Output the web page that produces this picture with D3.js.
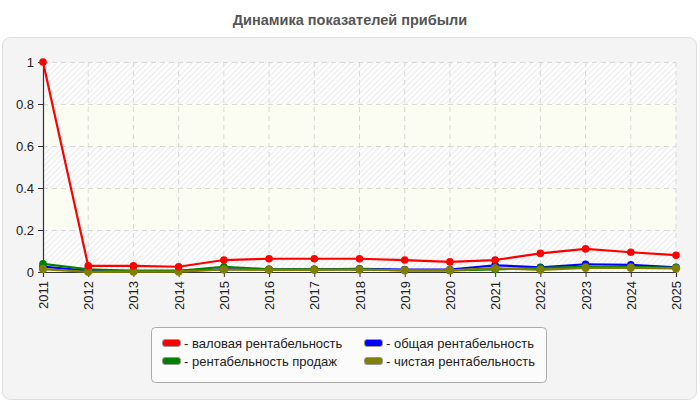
<!DOCTYPE html>
<html>
<head>
<meta charset="utf-8">
<script src="https://cdn.jsdelivr.net/npm/d3@7"></script>
<style>
	body { margin: 0; background: #fff; font-family: "Liberation Sans", Arial, sans-serif; }
	svg text { fill: #222; }
</style>
</head>
<body>
<div id="chart"></div>
<script>
const title = "Динамика показателей прибыли";
const years = ["2011", "2012", "2013", "2014", "2015", "2016", "2017", "2018", "2019", "2020", "2021", "2022", "2023", "2024", "2025"];
const yTicks = [0, 0.2, 0.4, 0.6, 0.8, 1];

const seriesNames = ["валовая рентабельность", "общая рентабельность", "рентабельность продаж", "чистая рентабельность"];
const seriesColors = ["#ff0000", "#0000ff", "#008000", "#808000"];

const grossValues = [1, 0.029, 0.029, 0.025, 0.057, 0.063, 0.063, 0.063, 0.057, 0.048, 0.057, 0.089, 0.11, 0.094, 0.08];
const totalValues = [0.026, 0.006, 0.005, 0.005, 0.013, 0.013, 0.013, 0.015, 0.012, 0.012, 0.032, 0.022, 0.037, 0.034, 0.022];
const salesValues = [0.039, 0.013, 0.006, 0.006, 0.025, 0.013, 0.013, 0.013, 0.008, 0.008, 0.012, 0.02, 0.025, 0.025, 0.02];
const netValues = [0.014, 0.001, 0.002, 0.002, 0.012, 0.01, 0.01, 0.012, 0.008, 0.008, 0.018, 0.01, 0.02, 0.02, 0.017];

const seriesValues = [grossValues, totalValues, salesValues, netValues];

const width = 700;
const height = 400;
const margin = { left: 43, right: 24, top: 62, bottom: 128 };

const svg = d3.select("#chart")
	.append("svg")
	.attr("width", width)
	.attr("height", height);

const defs = svg.append("defs");
const hatch = defs.append("pattern")
	.attr("id", "hatch")
	.attr("patternUnits", "userSpaceOnUse")
	.attr("width", 4)
	.attr("height", 4)
	.attr("patternTransform", "rotate(45)");
hatch.append("rect").attr("width", 4).attr("height", 4).attr("fill", "#fdfdfd");
hatch.append("line")
	.attr("x1", 0).attr("y1", 0).attr("x2", 0).attr("y2", 4)
	.attr("stroke", "#e6e6e6")
	.attr("stroke-width", 1.5);

// title
svg.append("text")
	.attr("x", width / 2)
	.attr("y", 25)
	.attr("text-anchor", "middle")
	.style("font-size", "14.5px")
	.style("font-weight", "bold")
	.style("fill", "#555")
	.text(title);

// panel
svg.append("rect")
	.attr("x", 2.5)
	.attr("y", 37.5)
	.attr("width", 694)
	.attr("height", 362)
	.attr("rx", 8)
	.attr("fill", "#f4f4f4")
	.attr("stroke", "#dedede");

const x = d3.scalePoint()
	.domain(years)
	.range([margin.left, width - margin.right]);

const y = d3.scaleLinear()
	.domain([0, 1])
	.range([height - margin.bottom, margin.top]);

const plot = svg.append("g");

// alternating background bands
plot.selectAll(".band").data(yTicks.slice(0, -1)).enter()
	.append("rect")
	.attr("class", "band")
	.attr("x", margin.left)
	.attr("width", x.range()[1] - margin.left)
	.attr("y", (d, i) => y(yTicks[i + 1]))
	.attr("height", (d, i) => y(d) - y(yTicks[i + 1]))
	.attr("fill", (d, i) => i % 2 === 0 ? "url(#hatch)" : "#fbfcf2");

// grid
plot.selectAll(".vgrid").data(years.slice(1)).enter()
	.append("line")
	.attr("class", "vgrid")
	.attr("x1", (d) => x(d)).attr("x2", (d) => x(d))
	.attr("y1", y(1)).attr("y2", y(0))
	.attr("stroke", "#d9d9d9")
	.attr("stroke-dasharray", "5,4");

plot.selectAll(".hgrid").data(yTicks.slice(1)).enter()
	.append("line")
	.attr("class", "hgrid")
	.attr("x1", margin.left).attr("x2", x.range()[1])
	.attr("y1", (d) => Math.round(y(d)) + 0.5).attr("y2", (d) => Math.round(y(d)) + 0.5)
	.attr("stroke", "#d9d9d9")
	.attr("stroke-dasharray", "5,4");

// axes
const yAxis = svg.append("g")
	.attr("transform", `translate(${margin.left}, 0)`)
	.call(d3.axisLeft(y).tickValues(yTicks).tickSize(5).tickPadding(4).tickFormat((d) => d3.format("")(+d.toFixed(1))));

const xAxis = svg.append("g")
	.attr("transform", `translate(0, ${y(0)})`)
	.call(d3.axisBottom(x).tickSize(5).tickPadding(3));

xAxis.selectAll("text")
	.attr("transform", "rotate(-90)")
	.attr("text-anchor", "end")
	.attr("x", -9)
	.attr("y", 0)
	.attr("dy", "0.35em");

[yAxis, xAxis].forEach((axis) => {
	axis.select(".domain").attr("stroke", "#333").attr("stroke-width", 1.2);
	axis.selectAll(".tick line").attr("stroke", "#333");
	axis.selectAll("text")
		.style("font-size", "13px")
		.style("font-family", "'Liberation Sans', Arial, sans-serif")
		.style("fill", "#222");
});

// series
const line = d3.line()
	.x((v, i) => x(years[i]))
	.y((v) => y(v));

const drawOrder = [1, 2, 3, 0];
drawOrder.forEach((s) => {
	const g = svg.append("g").attr("class", "series");
	g.append("path")
		.datum(seriesValues[s])
		.attr("fill", "none")
		.attr("stroke", seriesColors[s])
		.attr("stroke-width", 2.2)
		.attr("stroke-linejoin", "round")
		.attr("d", line);
	g.selectAll("circle").data(seriesValues[s]).enter()
		.append("circle")
		.attr("cx", (v, i) => x(years[i]))
		.attr("cy", (v) => y(v))
		.attr("r", s === 3 ? 4.2 : 3.8)
		.attr("fill", seriesColors[s]);
});

// legend
const legend = svg.append("g");
legend.append("rect")
	.attr("x", 151.5)
	.attr("y", 327.5)
	.attr("width", 395)
	.attr("height", 55)
	.attr("rx", 4)
	.attr("fill", "#fbfbfb")
	.attr("stroke", "#aaa");

const legendPos = [[162, 343], [364, 343], [162, 361], [364, 361]];
const legendOrder = [0, 1, 2, 3];
legendOrder.forEach((s, k) => {
	const [lx, ly] = legendPos[k];
	legend.append("rect")
		.attr("x", lx + 0.5)
		.attr("y", ly - 3.5)
		.attr("width", 18)
		.attr("height", 7)
		.attr("rx", 2.5)
		.attr("fill", seriesColors[s])
		.attr("stroke", "#999");
	legend.append("text")
		.attr("x", lx + 22)
		.attr("y", ly)
		.attr("dy", "0.35em")
		.style("font-size", "13px")
		.style("fill", "#222")
		.text("- " + seriesNames[s]);
});
</script>
</body>
</html>
